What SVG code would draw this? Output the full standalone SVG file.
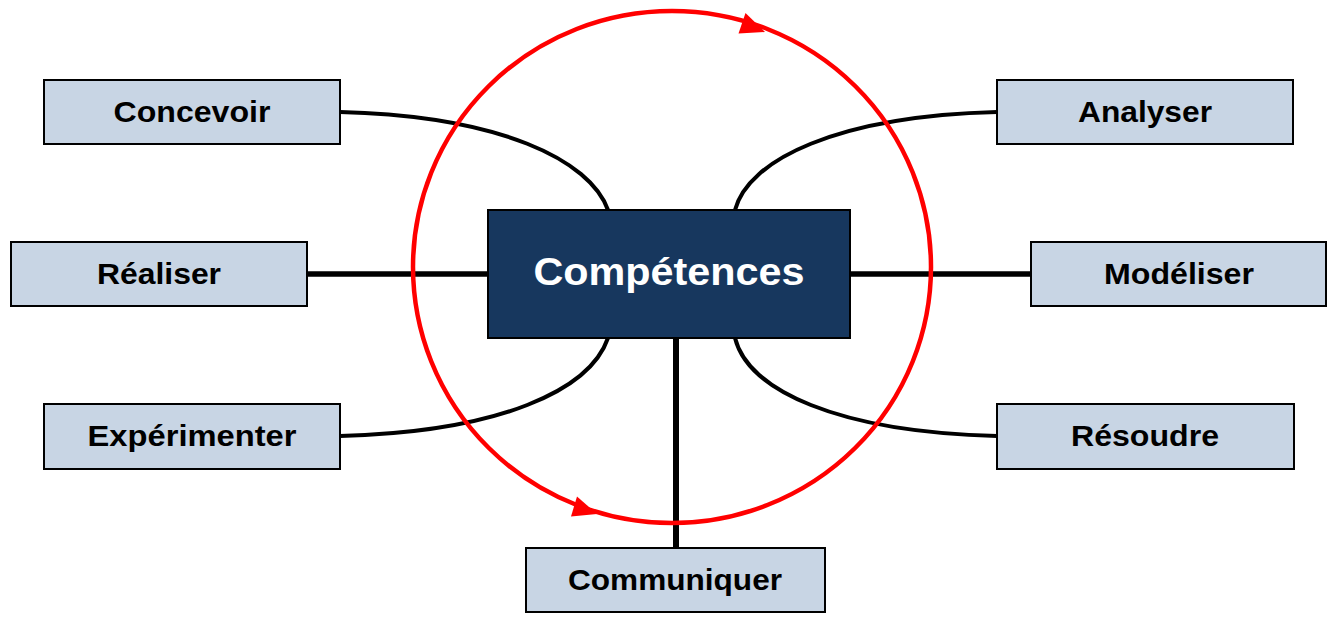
<svg xmlns="http://www.w3.org/2000/svg" width="1337" height="621" viewBox="0 0 1337 621">
  <style>
    .box { fill: #c8d5e4; stroke: #000; stroke-width: 2; }
    .center { fill: #17375e; stroke: #000; stroke-width: 2; }
    .lbl { font-family: "Liberation Sans", Arial, sans-serif; font-weight: bold; font-size: 30px; fill: #000; text-anchor: middle; }
    .clbl { font-family: "Liberation Sans", Arial, sans-serif; font-weight: bold; font-size: 38px; fill: #fff; text-anchor: middle; }
    .curve { fill: none; stroke: #000; stroke-width: 4; }
    .straight { fill: none; stroke: #000; stroke-width: 5.5; stroke-linecap: round; }
    .ring { fill: none; stroke: #ff0000; stroke-width: 4.5; }
    .head { fill: #ff0000; }
  </style>
  <rect width="1337" height="621" fill="#fff"/>
  <g id="connectors">
    <path class="curve" d="M340,112 C500,116 590,160 608,210"/>
    <path class="curve" d="M997,112 C837,116 748,160 735,210"/>
    <path class="curve" d="M340,436 C500,432 590,390 608,338"/>
    <path class="curve" d="M997,436 C837,432 748,390 735,338"/>
    <path class="straight" d="M306,274 L488,274"/>
    <path class="straight" d="M850,274 L1031,274"/>
    <path fill="none" stroke="#000" stroke-width="6" d="M676,338 L676,548"/>
  </g>
  <g id="cycle">
    <ellipse class="ring" cx="672" cy="267" rx="259" ry="256"/>
    <polygon class="head" points="765,32 745.5,13 738.5,33.5"/>
    <polygon class="head" points="597,514 577,496.5 571,516.5"/>
  </g>
  <g id="node-competences">
    <rect class="center" x="488" y="210" width="362" height="128"/>
    <text class="clbl" x="669" y="285" textLength="271" lengthAdjust="spacingAndGlyphs">Compétences</text>
  </g>
  <g id="node-concevoir">
    <rect class="box" x="44" y="80" width="296" height="64"/>
    <text class="lbl" x="192" y="122" textLength="157" lengthAdjust="spacingAndGlyphs">Concevoir</text>
  </g>
  <g id="node-realiser">
    <rect class="box" x="11" y="242" width="296" height="64"/>
    <text class="lbl" x="159" y="284" textLength="124" lengthAdjust="spacingAndGlyphs">Réaliser</text>
  </g>
  <g id="node-experimenter">
    <rect class="box" x="44" y="404" width="296" height="65"/>
    <text class="lbl" x="192" y="446" textLength="209" lengthAdjust="spacingAndGlyphs">Expérimenter</text>
  </g>
  <g id="node-analyser">
    <rect class="box" x="997" y="80" width="296" height="64"/>
    <text class="lbl" x="1145" y="122" textLength="134" lengthAdjust="spacingAndGlyphs">Analyser</text>
  </g>
  <g id="node-modeliser">
    <rect class="box" x="1031" y="242" width="295" height="64"/>
    <text class="lbl" x="1179" y="284" textLength="150" lengthAdjust="spacingAndGlyphs">Modéliser</text>
  </g>
  <g id="node-resoudre">
    <rect class="box" x="997" y="404" width="297" height="65"/>
    <text class="lbl" x="1145" y="446" textLength="148" lengthAdjust="spacingAndGlyphs">Résoudre</text>
  </g>
  <g id="node-communiquer">
    <rect class="box" x="526" y="548" width="299" height="64"/>
    <text class="lbl" x="675" y="590" textLength="214" lengthAdjust="spacingAndGlyphs">Communiquer</text>
  </g>
</svg>
